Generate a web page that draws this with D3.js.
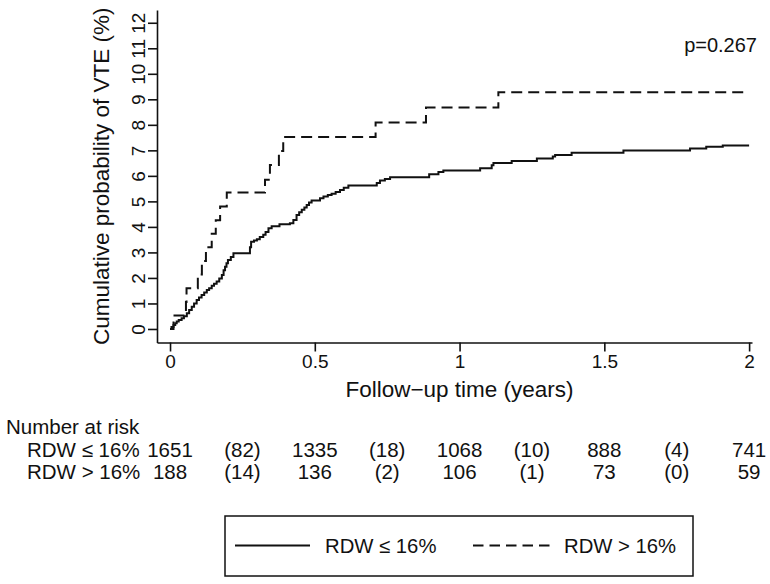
<!DOCTYPE html>
<html>
<head>
<meta charset="utf-8">
<script src="https://cdn.jsdelivr.net/npm/d3@7"></script>
<style>
  html, body { margin: 0; padding: 0; background: #ffffff; }
  svg { display: block; }
  text { font-family: "Liberation Sans", Arial, Helvetica, sans-serif; fill: #111; }
</style>
</head>
<body>
<svg id="chart" width="770" height="584"></svg>
<script>
// ---------- data ----------
const groups = ["RDW \u2264 16%", "RDW > 16%"];

// Kaplan-Meier step points (time in years, cumulative % after step)
const lowTimes = [0, 0.005, 0.012, 0.018, 0.023, 0.03, 0.04, 0.048, 0.058, 0.066, 0.075, 0.083, 0.092, 0.1, 0.109,
  0.118, 0.127, 0.135, 0.144, 0.152, 0.161, 0.17, 0.179, 0.185, 0.19, 0.195, 0.2, 0.21, 0.219, 0.276, 0.28, 0.29,
  0.3, 0.31, 0.322, 0.33, 0.34, 0.351, 0.378, 0.414, 0.426, 0.437, 0.446, 0.455, 0.464, 0.472, 0.48, 0.489,
  0.518, 0.53, 0.545, 0.558, 0.572, 0.587, 0.6, 0.616, 0.714, 0.725, 0.742, 0.76, 0.895, 0.927, 0.944,
  1.071, 1.111, 1.117, 1.18, 1.267, 1.322, 1.33, 1.387, 1.566, 1.796, 1.852, 1.909, 2.0];
const lowValues = [0, 0.08, 0.16, 0.22, 0.29, 0.35, 0.42, 0.5, 0.62, 0.74, 0.87, 1.0, 1.14, 1.23, 1.33,
  1.43, 1.53, 1.6, 1.69, 1.77, 1.86, 1.98, 2.12, 2.3, 2.44, 2.58, 2.7, 2.82, 2.97, 3.2, 3.42, 3.47,
  3.52, 3.6, 3.69, 3.8, 3.95, 4.03, 4.1, 4.14, 4.27, 4.47, 4.57, 4.67, 4.76, 4.86, 4.96, 5.03,
  5.12, 5.19, 5.25, 5.3, 5.37, 5.45, 5.53, 5.62, 5.72, 5.82, 5.88, 5.95, 6.06, 6.15, 6.21,
  6.3, 6.42, 6.5, 6.58, 6.68, 6.76, 6.82, 6.91, 6.99, 7.07, 7.14, 7.19, 7.19];

const highTimes = [0, 0.012, 0.055, 0.057, 0.096, 0.11, 0.124, 0.144, 0.158, 0.173, 0.196, 0.328, 0.345,
  0.376, 0.391, 0.71, 0.884, 1.134, 2.0];
const highValues = [0, 0.53, 1.06, 1.6, 2.13, 2.66, 3.2, 3.73, 4.26, 4.8, 5.35, 5.85, 6.43,
  6.97, 7.52, 8.09, 8.68, 9.28, 9.28];

const xTicks = [0, 0.5, 1, 1.5, 2];
const xTickLabels = ["0", "0.5", "1", "1.5", "2"];
const yTicks = [0, 1, 2, 3, 4, 5, 6, 7, 8, 9, 10, 11, 12];

const riskTimes = [0, 0.25, 0.5, 0.75, 1, 1.25, 1.5, 1.75, 2];
const riskLow  = ["1651", "(82)", "1335", "(18)", "1068", "(10)", "888", "(4)", "741"];
const riskHigh = ["188", "(14)", "136", "(2)", "106", "(1)", "73", "(0)", "59"];

const pText = "p=0.267";
const xTitle = "Follow\u2212up time (years)";
const yTitle = "Cumulative probability of VTE (%)";
const riskTitle = "Number at risk";

// ---------- layout ----------
const svg = d3.select("#chart");
const ink = "#111";

const x = d3.scaleLinear().domain([-0.045, 2.01]).range([157, 752]);
const y = d3.scaleLinear().domain([-0.53, 12.5]).range([342.5, 10]);

// axes
const xAxis = svg.append("g")
  .attr("transform", `translate(0,${y.range()[0]})`)
  .call(d3.axisBottom(x).tickValues(xTicks).tickFormat((d, i) => xTickLabels[i]).tickSize(9).tickSizeOuter(0).tickPadding(6));
xAxis.select(".domain").attr("stroke", ink).attr("stroke-width", 1.6);
xAxis.selectAll(".tick line").attr("stroke", ink).attr("stroke-width", 1.6);
xAxis.selectAll(".tick text").attr("font-size", 19).attr("fill", ink).attr("dy", 0).attr("y", 25.5);

const yAxis = svg.append("g")
  .attr("transform", `translate(${x.range()[0]},0)`)
  .call(d3.axisLeft(y).tickValues(yTicks).tickFormat(d3.format("d")).tickSize(9).tickSizeOuter(0));
yAxis.select(".domain").attr("stroke", ink).attr("stroke-width", 1.6);
yAxis.selectAll(".tick line").attr("stroke", ink).attr("stroke-width", 1.6);
yAxis.selectAll(".tick text")
  .attr("font-size", 19).attr("fill", ink)
  .attr("transform", "rotate(-90)")
  .attr("x", 0).attr("y", -12).attr("dy", 0)
  .attr("text-anchor", "middle");

// axis titles
svg.append("text")
  .attr("x", (x.range()[0] + x.range()[1]) / 2 + 5).attr("y", 396.5)
  .attr("text-anchor", "middle").attr("font-size", 22.5)
  .text(xTitle);

svg.append("text")
  .attr("transform", `translate(108.5,${(y.range()[0] + y.range()[1]) / 2}) rotate(-90)`)
  .attr("text-anchor", "middle").attr("font-size", 22.5)
  .text(yTitle);

// p-value
svg.append("text")
  .attr("x", 757).attr("y", 51.5).attr("text-anchor", "end").attr("font-size", 20)
  .text(pText);

// curves
const line = d3.line().x(d => x(d[0])).y(d => y(d[1])).curve(d3.curveStepAfter);
const lowData = lowTimes.map((t, i) => [t, lowValues[i]]);
const highData = highTimes.map((t, i) => [t, highValues[i]]);

svg.append("path").datum(lowData)
  .attr("d", line).attr("fill", "none").attr("stroke", ink).attr("stroke-width", 2);
svg.append("path").datum(highData)
  .attr("d", line).attr("fill", "none").attr("stroke", ink).attr("stroke-width", 2)
  .attr("stroke-dasharray", "11,6");

// number at risk table
svg.append("text").attr("x", 6).attr("y", 433.5).attr("font-size", 20.5).text(riskTitle);
const rows = [
  { label: groups[0], vals: riskLow, yb: 456.5 },
  { label: groups[1], vals: riskHigh, yb: 479 }
];
rows.forEach(r => {
  svg.append("text").attr("x", 27).attr("y", r.yb).attr("font-size", 20.5).text(r.label);
  svg.selectAll(null).data(r.vals).enter().append("text")
    .attr("x", (d, i) => x(riskTimes[i]))
    .attr("y", r.yb).attr("text-anchor", "middle").attr("font-size", 20.5)
    .text(d => d);
});

// legend
const lg = svg.append("g");
lg.append("rect").attr("x", 225).attr("y", 516).attr("width", 468).attr("height", 60)
  .attr("fill", "none").attr("stroke", ink).attr("stroke-width", 1.5);
const legendItems = [
  { label: groups[0], x0: 235, x1: 310, tx: 325, dash: null },
  { label: groups[1], x0: 473, x1: 550, tx: 564, dash: "10.5,6" }
];
legendItems.forEach(it => {
  lg.append("line").attr("x1", it.x0).attr("x2", it.x1).attr("y1", 545.5).attr("y2", 545.5)
    .attr("stroke", ink).attr("stroke-width", 2).attr("stroke-dasharray", it.dash);
  lg.append("text").attr("x", it.tx).attr("y", 553).attr("font-size", 20.3).text(it.label);
});
</script>
</body>
</html>
